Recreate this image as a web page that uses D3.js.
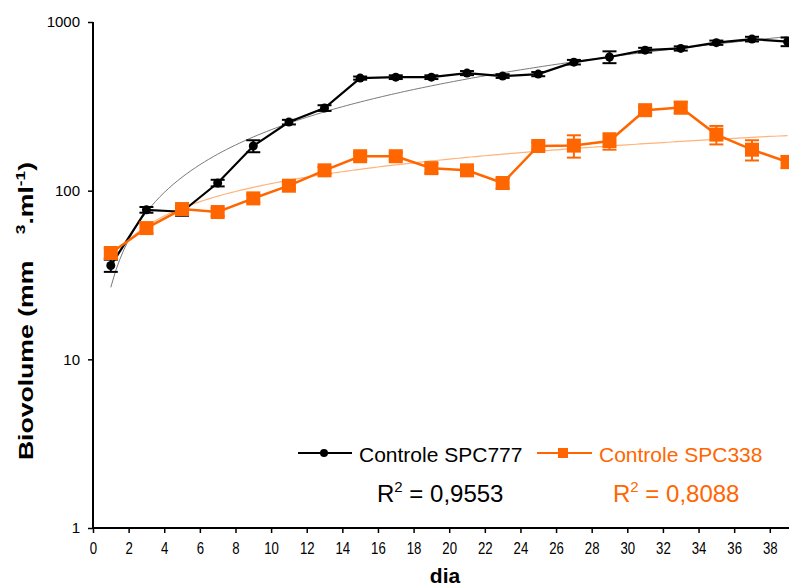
<!DOCTYPE html>
<html>
<head>
<meta charset="utf-8">
<script src="https://cdn.jsdelivr.net/npm/d3@7"></script>
<style>
  html, body { margin: 0; padding: 0; background: #fff; }
  svg { display: block; font-family: "Liberation Sans", Arial, sans-serif; }
</style>
</head>
<body>
<svg id="chart" width="789" height="587"></svg>
<script>
// Sampling days
const days = [1, 3, 5, 7, 9, 11, 13, 15, 17, 19, 21, 23, 25, 27, 29, 31, 33, 35, 37, 39];

// Controle SPC777 (mean biovolume and error)
const spc777 = [36, 77, 75, 111, 184, 255, 309, 465, 471, 471, 498, 478, 491, 578, 620, 681, 697, 754, 792, 764];
const spc777Err = [3, 3, 4, 5, 15, 8, 12, 10, 12, 12, 14, 12, 14, 18, 50, 22, 20, 22, 25, 45];

// Controle SPC338 (mean biovolume and error)
const spc338 = [42.7, 60, 77.8, 74.7, 90, 107, 132, 160, 160, 136, 132, 111, 184, 185, 197, 300, 311, 215, 175, 148];
const spc338Err = [3, 4, 4, 4, 5, 5, 6, 8, 8, 9, 8, 8, 9, 28, 22, 14, 24, 27, 24, 12];

const xTicks = d3.range(0, 39, 2);
const yTicks = [1, 10, 100, 1000];

const seriesNames = ["Controle SPC777", "Controle SPC338"];
const r2Labels = ["0,9553", "0,8088"];

const BLACK = "#000000";
const ORANGE = "#ff6600";

const svg = d3.select("#chart");

const x = d3.scaleLinear().domain([0, 39]).range([93, 787.6]);
const y = d3.scaleLog().domain([1, 1000]).range([528, 22]);

// Power trendline y = a * x^b, least squares on ln(y) vs ln(x)
function powerFit(xs, ys) {
  const lx = xs.map(Math.log), ly = ys.map(Math.log);
  const n = xs.length;
  const mx = d3.mean(lx), my = d3.mean(ly);
  let sxy = 0, sxx = 0;
  for (let i = 0; i < n; i++) { sxy += (lx[i] - mx) * (ly[i] - my); sxx += (lx[i] - mx) ** 2; }
  const b = sxy / sxx;
  const a = Math.exp(my - b * mx);
  return t => a * Math.pow(t, b);
}

const fitDays = d3.range(1, 39.01, 0.25);
const trendLine = d3.line().x(d => x(d[0])).y(d => y(d[1]));

const fit777 = powerFit(days, spc777);
const fit338 = powerFit(days, spc338);

svg.append("path")
  .attr("d", trendLine(fitDays.map(t => [t, fit777(t)])))
  .attr("fill", "none").attr("stroke", "#7a7a7a").attr("stroke-width", 1);

svg.append("path")
  .attr("d", trendLine(fitDays.map(t => [t, fit338(t)])))
  .attr("fill", "none").attr("stroke", "#ffb27a").attr("stroke-width", 1.2);

// Axes
const yAxis = svg.append("g")
  .attr("transform", `translate(${x(0)},0)`)
  .call(d3.axisLeft(y).tickValues(yTicks).tickFormat(d3.format("d")).tickSize(5).tickPadding(8));
yAxis.select(".domain").attr("stroke-width", 2).attr("d", `M0,${y(1000)}V${y(1)}`);
yAxis.selectAll(".tick line").attr("stroke-width", 1.5);
yAxis.selectAll(".tick text").attr("font-size", 15).attr("font-family", "'Liberation Sans', Arial, sans-serif").attr("fill", "#000");

const xAxis = svg.append("g")
  .attr("transform", `translate(0,${y(1)})`)
  .call(d3.axisBottom(x).tickValues(xTicks).tickFormat(d3.format("d")).tickSize(5).tickPadding(8));
xAxis.select(".domain").attr("stroke-width", 2).attr("d", `M${x(0)},0H789`);
xAxis.selectAll(".tick line").attr("stroke-width", 1.5);
// condensed tick numerals
xAxis.selectAll(".tick text")
  .attr("font-size", 16.5).attr("fill", "#000")
  .attr("transform", "translate(0,1) scale(0.8,1)")
  .attr("x", 0);

// Series
function drawSeries(vals, errs, color, lineW, marker) {
  const pts = days.map((d, i) => ({ d, v: vals[i], e: errs[i] }));
  const g = svg.append("g");
  g.append("path")
    .attr("d", d3.line().x(p => x(p.d)).y(p => y(p.v))(pts))
    .attr("fill", "none").attr("stroke", color).attr("stroke-width", lineW);
  const eb = g.selectAll(".eb").data(pts).join("g");
  eb.append("line")
    .attr("x1", p => x(p.d)).attr("x2", p => x(p.d))
    .attr("y1", p => y(p.v + p.e)).attr("y2", p => y(p.v - p.e))
    .attr("stroke", color).attr("stroke-width", 2);
  eb.append("line")
    .attr("x1", p => x(p.d) - 7).attr("x2", p => x(p.d) + 7)
    .attr("y1", p => y(p.v + p.e)).attr("y2", p => y(p.v + p.e))
    .attr("stroke", color).attr("stroke-width", 2);
  eb.append("line")
    .attr("x1", p => x(p.d) - 7).attr("x2", p => x(p.d) + 7)
    .attr("y1", p => y(p.v - p.e)).attr("y2", p => y(p.v - p.e))
    .attr("stroke", color).attr("stroke-width", 2);
  if (marker === "circle") {
    g.selectAll(".m").data(pts).join("circle")
      .attr("cx", p => x(p.d)).attr("cy", p => y(p.v)).attr("r", 4.5).attr("fill", color);
  } else {
    g.selectAll(".m").data(pts).join("rect")
      .attr("x", p => x(p.d) - 7).attr("y", p => y(p.v) - 7)
      .attr("width", 14).attr("height", 14).attr("fill", color);
  }
}

drawSeries(spc777, spc777Err, BLACK, 2.2, "circle");
drawSeries(spc338, spc338Err, ORANGE, 2.5, "square");

// Legend
const leg = svg.append("g");
leg.append("line").attr("x1", 298).attr("x2", 352).attr("y1", 453).attr("y2", 453).attr("stroke", BLACK).attr("stroke-width", 2);
leg.append("circle").attr("cx", 324).attr("cy", 453).attr("r", 4).attr("fill", BLACK);
leg.append("text").attr("x", 359).attr("y", 462).attr("font-size", 21).attr("fill", BLACK).text(seriesNames[0]);

leg.append("line").attr("x1", 537).attr("x2", 592).attr("y1", 453).attr("y2", 453).attr("stroke", ORANGE).attr("stroke-width", 2);
leg.append("rect").attr("x", 558).attr("y", 448).attr("width", 10).attr("height", 10).attr("fill", ORANGE);
leg.append("text").attr("x", 599).attr("y", 462).attr("font-size", 21).attr("fill", ORANGE).text(seriesNames[1]);

// R² labels
function r2(xPos, color, val) {
  const t = svg.append("text").attr("x", xPos).attr("y", 502).attr("font-size", 24).attr("fill", color);
  t.append("tspan").text("R");
  t.append("tspan").attr("font-size", 15).attr("dy", -10).text("2");
  t.append("tspan").attr("dy", 10).text(" = " + val);
}
r2(377, BLACK, r2Labels[0]);
r2(613, ORANGE, r2Labels[1]);

// Axis titles
svg.append("text")
  .attr("x", 445).attr("y", 583)
  .attr("text-anchor", "middle").attr("font-size", 21).attr("font-weight", "bold")
  .text("dia");

// y title, drawn elongated along its baseline
const yt = svg.append("text")
  .attr("transform", "translate(33,311) rotate(-90) scale(1.33,1)")
  .attr("text-anchor", "middle").attr("font-size", 20).attr("font-weight", "bold");
yt.append("tspan").text("Biovolume (mm\u2002\u2002");
yt.append("tspan").attr("font-size", 13).attr("dy", -8).text("3");
yt.append("tspan").attr("dy", 8).text(".ml");
yt.append("tspan").attr("font-size", 13).attr("dy", -8).text("-1");
yt.append("tspan").attr("dy", 8).text(")");
</script>
</body>
</html>
